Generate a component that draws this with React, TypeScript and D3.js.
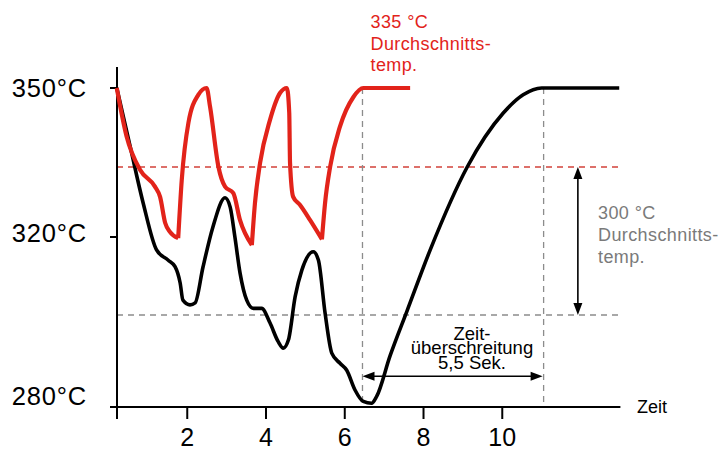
import React from "react";
import * as d3 from "d3";

// ---- data ----
const timeRed = [0.21, 0.46, 0.8, 1.18, 1.31, 1.44, 1.56, 1.77, 1.86, 2.03, 2.28, 2.49, 2.58, 2.79, 2.96, 3.17, 3.34, 3.64, 3.72, 3.85, 4.1, 4.36, 4.53, 4.59, 4.61, 4.69, 4.86, 5.12, 5.42, 5.5, 5.63, 5.88, 6.22, 6.47, 7.66];
const tempRed = [350, 340.8, 334.4, 330.8, 328.6, 323.0, 321.1, 319.7, 332.2, 343.4, 348.7, 350, 346.4, 335.1, 330.8, 329.4, 323.6, 317.9, 327.3, 335.8, 343.9, 349.1, 350, 345.3, 335.8, 328.6, 326.9, 323.6, 319.4, 327.3, 335.1, 342.7, 348.3, 350, 350];

const timeBlack = [0.21, 0.55, 0.88, 1.22, 1.51, 1.69, 1.82, 1.89, 2.07, 2.2, 2.4, 2.65, 2.96, 3.09, 3.21, 3.34, 3.51, 3.68, 3.89, 4.1, 4.31, 4.44, 4.57, 4.74, 4.91, 5.2, 5.33, 5.5, 5.67, 5.88, 6.05, 6.26, 6.47, 6.68, 6.81, 7.15, 7.58, 8.17, 9.11, 10.02, 10.53, 11.0, 12.97];
const tempBlack = [350, 338.9, 327.3, 316.7, 314.1, 312.4, 308.2, 303.8, 302.6, 303.1, 312.3, 322.1, 328.4, 326.4, 320, 310.8, 303.8, 301.7, 301.7, 298.3, 294.2, 292.8, 294.6, 304.7, 311.5, 316.2, 314.1, 300.5, 291.7, 289.5, 288.0, 283.7, 281.2, 280.8, 282.3, 291.1, 301.0, 316.7, 335.0, 345.2, 348.7, 350, 350];

const yTicks = [350, 320, 280];
const yTickLabels = ["350°C", "320°C", "280°C"];
const xTicks = [2, 4, 6, 8, 10];
const avgRed = 335;
const avgGray = 300;
const reachRed = 6.45;
const reachBlack = 11.05;
const arrowTemp = 286.7;
const arrowTime = 11.92;
const redLabel = ["335 °C", "Durchschnitts-", "temp."];
const grayLabel = ["300 °C", "Durchschnitts-", "temp."];
const spanLabel = ["Zeit-", "überschreitung", "5,5 Sek."];
const xAxisTitle = "Zeit";

const W = 724;
const H = 450;
const FONT = "'Liberation Sans', Arial, Helvetica, sans-serif";
const RED = "#e2231a";

const x = d3.scaleLinear().domain([0, 13]).range([108.5, 620.4]);
const y = d3.scaleLinear().domain([280, 300, 320, 335, 350]).range([407, 315, 237, 167, 88]);

type P = [number, number];

function pathWithCusps(ts: number[], vs: number[]): string {
  const pts: P[] = ts.map((t, i) => [t, vs[i]]);
  const line = d3
    .line<P>()
    .x((d) => x(d[0]))
    .y((d) => y(d[1]))
    .curve(d3.curveMonotoneX);
  // split at local minima (sharp cusps)
  const segs: P[][] = [];
  let cur: P[] = [pts[0]];
  for (let i = 1; i < pts.length; i++) {
    cur.push(pts[i]);
    if (i < pts.length - 1 && pts[i][1] < pts[i - 1][1] && pts[i][1] < pts[i + 1][1]) {
      segs.push(cur);
      cur = [pts[i]];
    }
  }
  segs.push(cur);
  return segs.map((s) => line(s) || "").join("");
}

const blackLine = d3
  .line<P>()
  .x((d) => x(d[0]))
  .y((d) => y(d[1]))
  .curve(d3.curveMonotoneX);

function Arrow({ x1, y1, x2, y2 }: { x1: number; y1: number; x2: number; y2: number }) {
  const len = 12;
  const half = 4.5;
  const ang = Math.atan2(y2 - y1, x2 - x1);
  const head = (tx: number, ty: number, a: number) => {
    const bx = tx - len * Math.cos(a);
    const by = ty - len * Math.sin(a);
    const nx = -Math.sin(a) * half;
    const ny = Math.cos(a) * half;
    return `M${tx},${ty}L${bx + nx},${by + ny}L${bx - nx},${by - ny}Z`;
  };
  return (
    <g>
      <line
        x1={x1 + Math.cos(ang) * len * 0.8}
        y1={y1 + Math.sin(ang) * len * 0.8}
        x2={x2 - Math.cos(ang) * len * 0.8}
        y2={y2 - Math.sin(ang) * len * 0.8}
        stroke="#000"
        strokeWidth={1.6}
      />
      <path d={head(x2, y2, ang)} fill="#000" />
      <path d={head(x1, y1, ang + Math.PI)} fill="#000" />
    </g>
  );
}

export default function App() {
  const redPath = pathWithCusps(timeRed, tempRed);
  const blackPath = blackLine(timeBlack.map((t, i) => [t, tempBlack[i]] as P)) || "";
  const axisX = 117;
  const axisY = 407;
  return (
    <svg
      width={W}
      height={H}
      style={{ position: "absolute", left: 0, top: 0, background: "#fff" }}
      fontFamily={FONT}
    >
      {/* reference dashed lines */}
      <line x1={axisX} x2={x(13)} y1={y(avgRed)} y2={y(avgRed)} stroke="#d2423a" strokeWidth={1.3} strokeDasharray="6 5" />
      <line x1={axisX} x2={x(13)} y1={y(avgGray)} y2={y(avgGray)} stroke="#8c8c8c" strokeWidth={1.3} strokeDasharray="6 5" />
      <line x1={x(reachRed)} x2={x(reachRed)} y1={y(350)} y2={axisY} stroke="#8c8c8c" strokeWidth={1.3} strokeDasharray="6 5" />
      <line x1={x(reachBlack)} x2={x(reachBlack)} y1={y(350)} y2={axisY} stroke="#8c8c8c" strokeWidth={1.3} strokeDasharray="6 5" />

      {/* axes */}
      <line x1={axisX} x2={axisX} y1={67} y2={419} stroke="#000" strokeWidth={2} />
      <line x1={110} x2={x(13)} y1={axisY} y2={axisY} stroke="#000" strokeWidth={2} />
      {yTicks.slice(0, 2).map((t) => (
        <line key={t} x1={110} x2={axisX} y1={y(t)} y2={y(t)} stroke="#000" strokeWidth={2} />
      ))}
      {xTicks.map((t) => (
        <line key={t} x1={x(t)} x2={x(t)} y1={axisY} y2={419} stroke="#000" strokeWidth={2} />
      ))}
      {yTickLabels.map((s, i) => (
        <text key={s} x={87} y={[97, 242, 405][i]} textAnchor="end" fontSize={25.5} letterSpacing={0.8} fill="#000">
          {s}
        </text>
      ))}
      {xTicks.map((t) => (
        <text key={t} x={x(t)} y={446} textAnchor="middle" fontSize={25} fill="#000">
          {t}
        </text>
      ))}
      <text x={637} y={413} fontSize={18} fill="#000">
        {xAxisTitle}
      </text>

      {/* curves */}
      <path d={blackPath} fill="none" stroke="#000" strokeWidth={3.6} strokeLinejoin="round" />
      <path d={redPath} fill="none" stroke={RED} strokeWidth={4.2} strokeLinejoin="round" />

      {/* arrows */}
      <Arrow x1={x(reachRed)} y1={y(arrowTemp)} x2={x(reachBlack) - 1} y2={y(arrowTemp)} />
      <Arrow x1={x(arrowTime)} y1={y(avgRed)} x2={x(arrowTime)} y2={y(avgGray)} />

      {/* labels */}
      {redLabel.map((s, i) => (
        <text key={i} x={370.5} y={28 + i * 21.5} fontSize={18} fill={RED} letterSpacing={0.4}>
          {s}
        </text>
      ))}
      {grayLabel.map((s, i) => (
        <text key={i} x={598} y={219 + i * 22} fontSize={18} fill="#7a7a7a" letterSpacing={0.4}>
          {s}
        </text>
      ))}
      {spanLabel.map((s, i) => (
        <text key={i} x={472} y={339.5 + i * 14.5} fontSize={18.5} fill="#000" textAnchor="middle">
          {s}
        </text>
      ))}
    </svg>
  );
}
